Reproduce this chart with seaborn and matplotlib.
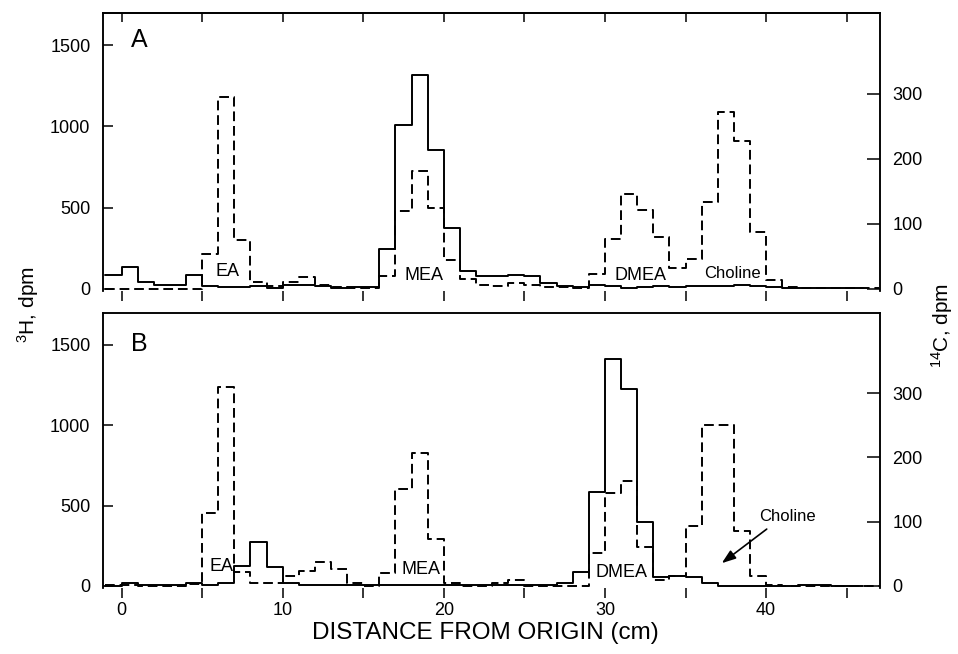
import numpy as np
import matplotlib
matplotlib.use("Agg")
import matplotlib.pyplot as plt
from matplotlib.patches import ArrowStyle
import seaborn as sns

# 1 cm slices of the chromatogram, first slice starts at -1 cm
edges_h3 = np.arange(-1, 47)
edges_c14 = np.arange(-1, 48)

# panel A
h3_a = [86, 137, 45, 22, 22, 86, 18, 12, 10, 18, 5, 25, 25, 18, 8, 10, 10,
        245, 1011, 1319, 853, 374, 113, 80, 80, 86, 80, 39, 18, 14, 25, 18,
        5, 14, 18, 15, 18, 20, 20, 22, 18, 12, 8, 6, 5, 5, 5]
c14_a = [0, 0, 0, 0, 0, 0, 54, 296, 75, 10, 5, 10, 18, 6, 3, 1, 2, 20, 120,
         181, 125, 45, 15, 6, 4, 9, 6, 3, 3, 2, 23, 77, 146, 122, 80, 32, 46,
         134, 273, 227, 87, 14, 3, 2, 1, 1, 1, 1]

# panel B
h3_b = [3, 17, 6, 6, 6, 21, 6, 21, 127, 273, 121, 17, 6, 5, 6, 6, 5, 6, 6, 6,
        6, 6, 5, 5, 5, 6, 6, 8, 21, 89, 582, 1411, 1223, 395, 58, 62, 54, 17,
        3, 2, 2, 2, 2, 6, 6, 2, 2]
c14_b = [1, 2, 0, 0, 0, 3, 114, 310, 22, 4, 5, 16, 24, 37, 26, 4, 0, 20, 151,
         207, 73, 4, 0, 0, 4, 10, 0, 0, 0, 0, 51, 145, 163, 60, 10, 16, 93,
         251, 251, 86, 16, 1, 0, 0, 0, 0, 0, 0]

labels_a = [("EA", 6.6, 107), ("MEA", 18.8, 86), ("DMEA", 32.2, 86)]
labels_b = [("EA", 6.2, 120), ("MEA", 18.6, 100), ("DMEA", 31.0, 83)]

sns.set_style("ticks")
plt.rcParams['font.family'] = ['Liberation Sans', 'DejaVu Sans']
plt.rcParams['mathtext.fontset'] = 'custom'
plt.rcParams['mathtext.rm'] = 'Liberation Sans'
plt.rcParams['mathtext.it'] = 'Liberation Sans'
plt.rcParams['axes.linewidth'] = 1.1
for key in ('text.color', 'axes.labelcolor', 'axes.edgecolor',
            'xtick.color', 'ytick.color'):
    plt.rcParams[key] = 'black'

fig = plt.figure(figsize=(9.58, 6.54), dpi=100)
ax_a = fig.add_axes([0.1075, 0.5544, 0.8111, 0.4262])
ax_b = fig.add_axes([0.1075, 0.1003, 0.8111, 0.4216])


def step_line(ax, edges, vals, **kw):
    # steps-post needs the last value repeated at the closing edge
    y = np.append(vals, vals[-1])
    sns.lineplot(x=edges, y=y, drawstyle='steps-post', color='black',
                 linewidth=1.4, ax=ax, **kw)


def draw_panel(ax, h3, c14, letter, letter_y, texts, bottom_labels):
    ax2 = ax.twinx()
    step_line(ax, edges_h3, h3)
    step_line(ax2, edges_c14, c14, linestyle=(0, (5, 2.5)))

    ax.set_xlim(-1.15, 47.07)
    ax.set_ylim(-15, 1700)
    ax2.set_ylim(-3.75, 425)
    ax.set_xlabel('')
    ax.set_ylabel('')
    ax2.set_ylabel('')
    for a in (ax, ax2):
        a.spines['bottom'].set_visible(False)

    ax.set_yticks([0, 500, 1000, 1500])
    ax.tick_params(axis='y', direction='in', length=7, width=1.1, pad=9,
                   labelsize=13)
    ax2.set_yticks([0, 100, 200, 300])
    ax2.tick_params(axis='y', direction='in', length=9.5, width=1.1, pad=9,
                    labelsize=13)

    if bottom_labels:
        ax.set_xticks(range(0, 50, 10))
        ax.set_xticks(range(5, 50, 10), minor=True)
        ax.tick_params(axis='x', which='both', direction='out', length=7,
                       width=1.1, pad=3, labelsize=13)
    else:
        ax.set_xticks(range(0, 50, 5))
        ax.tick_params(axis='x', direction='out', length=7, width=1.1,
                       labelbottom=False)
        top = ax.secondary_xaxis('top')
        top.set_xticks(range(0, 50, 5))
        top.tick_params(axis='x', direction='in', length=6.5, width=1.1,
                        labeltop=False)

    ax.text(1.12, letter_y, letter, fontsize=18, ha='center', va='center')
    for name, x, y in texts:
        ax.text(x, y, name, fontsize=13, ha='center', va='center')
    return ax2


draw_panel(ax_a, h3_a, c14_a, 'A', 1535, labels_a, False)
ax_a.text(37.9, 97, 'Choline', fontsize=12, ha='center', va='center')

draw_panel(ax_b, h3_b, c14_b, 'B', 1505, labels_b, True)
ax_b.text(41.3, 433, 'Choline', fontsize=12, ha='center', va='center')
ax_b.annotate('', xy=(37.25, 142), xytext=(40.04, 354),
              arrowprops=dict(arrowstyle=ArrowStyle('-|>', head_length=0.7,
                                                    head_width=0.25),
                              color='black', lw=1.2, mutation_scale=12,
                              shrinkA=0, shrinkB=0))

fig.text(0.0292, 0.5336, '$^{3}$H, dpm', rotation=90, fontsize=15,
         ha='center', va='center')
fig.text(0.9835, 0.503, '$^{14}$C, dpm', rotation=90, fontsize=15,
         ha='center', va='center')
fig.text(0.507, 0.032, 'DISTANCE FROM ORIGIN (cm)', fontsize=17.5,
         ha='center', va='center')

fig.savefig('out.png', dpi=100)
